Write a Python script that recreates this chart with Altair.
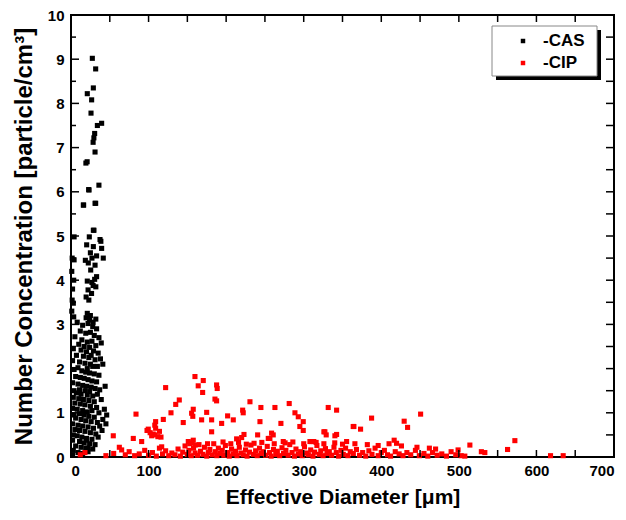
import altair as alt
import pandas as pd

# ---- data ----
cas_x = [27.5, 31.8, 28.8, 21.0, 26.6, 25.8, 39.5, 34.0, 30.5, 29.5, 28.5, 31.0, 20.8, 19.2, 36.0, 22.8,
         31.0, 16.3, 28.8, 23.6, 37.4, 38.5, 23.2, 15.9, 31.8, 29.6,
         20.2, 28.8, 39.5, 25.0, 33.0, 41.6, 22.3, 31.0, 18.5, 27.0, 33.0, 21.0, 27.0, 25.4, 30.5, 28.5, 32.0,
         22.0, 26.5, 19.5, 23.0, 21.0, 25.0, 19.5, 24.0, 28.5, 32.0,
         4.0, 4.0, 3.5, 3.0, 3.5, 1.5, 1.0, 2.0, 1.5, 1.0,
         8, 15, 22, 28, 33, 12, 19, 25, 30, 36, 5, 14, 21, 27, 39, 10, 17, 24, 32, 3,
         13, 20, 29, 35, 7, 16, 23, 26, 31, 38, 2, 11, 18, 25, 34, 9, 21, 28, 41, 4,
         14, 19, 24, 30, 36, 6, 12, 17, 22, 27, 33, 2, 9, 15, 20, 26, 31, 37, 44, 4, 11, 18, 24,
         7, 13, 21, 28, 34, 3, 10, 16, 23, 30, 39, 5, 12, 18, 25, 33, 2, 8, 15, 21, 27, 36, 43, 11,
         4, 17, 23, 30, 6, 13, 19, 26, 34, 41, 2, 9, 15, 22, 29, 37, 45, 5, 11, 18, 25, 32, 40, 3,
         8, 14, 20, 27, 35, 2, 11, 17, 24, 31, 6, 13, 19, 22, 28, 3, 9, 15, 2, 46, 20, 22]
cas_y = [9.02, 8.78, 8.35, 8.22, 8.08, 7.78, 7.55, 7.50, 7.32, 7.22, 7.12, 6.90, 6.68, 6.65, 6.15, 6.05,
         5.74, 5.70, 5.13, 4.98, 4.92, 4.88, 6.04, 5.70, 5.74, 5.13,
         4.80, 4.76, 4.72, 4.62, 4.55, 4.50, 4.39, 4.34, 4.45, 4.50, 4.08, 3.98, 3.95, 4.23, 4.02, 3.88, 3.85,
         3.78, 3.70, 3.62, 3.55, 3.25, 3.20, 3.15, 3.10, 3.05, 3.12,
         4.98, 4.46, 4.00, 3.48, 3.17, 4.50, 4.20, 3.80, 3.55, 3.30,
         3.05, 2.98, 3.02, 2.95, 2.90, 2.85, 2.80, 2.82, 2.75, 2.70, 2.72, 2.65, 2.60, 2.62, 2.58, 2.55, 2.50, 2.48, 2.52, 2.45,
         2.42, 2.38, 2.40, 2.35, 2.30, 2.28, 2.25, 2.30, 2.20, 2.22, 2.18, 2.15, 2.12, 2.10, 2.05, 2.02, 2.00, 2.05, 2.10, 1.98,
         1.95, 1.92, 1.90, 1.88, 1.85, 1.82, 1.80, 1.78, 1.75, 1.72, 1.70, 1.68, 1.65, 1.62, 1.60, 1.58, 1.55, 1.52, 1.60, 1.50, 1.52, 1.50, 1.48,
         1.45, 1.42, 1.40, 1.38, 1.42, 1.35, 1.32, 1.30, 1.28, 1.25, 1.30, 1.22, 1.20, 1.18, 1.15, 1.12, 1.10, 1.08, 1.05, 1.02, 1.05, 1.00, 1.08, 0.98,
         0.95, 0.95, 0.92, 0.90, 0.88, 0.85, 0.82, 0.80, 0.78, 0.85, 0.75, 0.72, 0.70, 0.68, 0.65, 0.70, 0.75, 0.62, 0.60, 0.58, 0.55, 0.52, 0.60, 0.50,
         0.48, 0.45, 0.42, 0.40, 0.45, 0.38, 0.35, 0.32, 0.30, 0.28, 0.25, 0.22, 0.20, 0.12, 0.18, 0.15, 0.10, 0.08, 0.05, 0.95, 0.38, 0.20]

cip_x = [159.8, 170.5, 164.0, 187.7, 188.5, 169.7, 122.0, 185.6, 187.7, 139.6, 230.7, 135.0, 281.3, 244.8,
         262.9, 331.6, 342.4, 157.6, 221.3, 155.5, 174.9, 128.9, 83.8, 288.7, 293.0, 201.9, 209.2, 181.3,
         168.4, 144.7, 119.0, 109.1, 194.2, 243.6, 270.6, 299.4, 295.0, 299.4, 363.8, 99.6, 109.1, 181.3,
         260.7, 327.3, 340.2, 220.0, 213.5, 254.3, 54.5, 80.3, 91.1, 104.0, 108.0, 112.0, 116.0, 157.6,
         151.2, 355.3, 310.2, 273.6, 62.3, 65.3,
         450.7, 387.5, 429.5, 433.9, 364.7, 373.3, 416.6, 419.7, 514.2, 572.2, 562.8, 533.5, 529.0, 618.2,
         634.5, 499.0, 507.7,
         223.0, 240.6, 258.6, 256.4, 326.0, 329.0, 342.4, 308.0, 313.0, 157.0, 98.0, 102.0, 106.0, 114.0,
         116.9, 153.0, 160.0, 108.0, 222.0,
         12, 18, 45, 55, 70, 75, 82, 88, 95, 100, 105, 110, 114, 118, 122, 126, 130, 134, 138, 141, 144, 147,
         150, 152, 155, 158, 160, 163, 165, 167, 170, 172, 175, 177, 179, 182, 184, 186, 188, 190, 192, 195,
         197, 199, 202, 204, 207, 209, 212, 214, 217, 219, 222, 225, 227, 230, 232, 235, 238, 240, 243, 245,
         248, 251, 253, 256, 258, 261, 264, 266, 269, 272, 274, 277, 280, 282, 285, 288, 290, 293, 296, 298,
         301, 304, 306, 309, 312, 314, 317, 320, 322, 325, 328, 330, 333, 336, 339, 342, 345, 348, 351, 354,
         357, 360, 364, 368, 372, 376, 380, 384, 388, 392, 396, 400, 404, 408, 412, 418, 423, 428, 433, 438,
         444, 449, 455, 460, 466, 472, 478, 484, 490, 496, 503,
         156, 176, 196, 206, 216, 226, 236, 246, 262, 276, 286, 300, 316, 326, 340, 350, 366, 382, 396, 410,
         426, 446, 462, 470]
cip_y = [1.82, 1.73, 1.61, 1.63, 1.55, 1.46, 1.57, 1.31, 1.27, 1.29, 1.25, 1.19, 1.21, 1.12,
         1.12, 1.12, 1.06, 1.08, 1.06, 0.99, 1.01, 1.00, 0.97, 1.00, 0.91, 0.93, 0.84, 0.84,
         0.84, 0.78, 0.85, 0.80, 0.76, 0.80, 0.76, 0.80, 0.69, 0.60, 0.69, 0.63, 0.65, 0.57,
         0.50, 0.57, 0.48, 0.44, 0.41, 0.42, 0.48, 0.42, 0.35, 0.48, 0.50, 0.46, 0.45, 0.38,
         0.35, 0.35, 0.35, 0.35, 0.22, 0.16,
         0.97, 0.88, 0.81, 0.67, 0.69, 0.63, 0.38, 0.31, 0.27, 0.37, 0.17, 0.10, 0.12, 0.03,
         0.03, 0.16, 0.02,
         0.51, 0.50, 0.54, 0.42, 0.57, 0.50, 0.51, 0.35, 0.35, 0.92, 0.60, 0.55, 0.52, 0.58,
         0.23, 0.30, 0.27, 0.72, 1.00,
         0.05, 0.10, 0.03, 0.08, 0.05, 0.12, 0.03, 0.07, 0.15, 0.04, 0.10, 0.02, 0.20, 0.07, 0.14, 0.03, 0.09, 0.05, 0.18, 0.02, 0.11, 0.25,
         0.06, 0.15, 0.03, 0.20, 0.09, 0.04, 0.28, 0.13, 0.06, 0.22, 0.02, 0.10, 0.17, 0.05, 0.30, 0.12, 0.03, 0.20, 0.08, 0.15,
         0.04, 0.26, 0.10, 0.02, 0.18, 0.07, 0.13, 0.03, 0.22, 0.09, 0.05, 0.16, 0.02, 0.11, 0.27, 0.06, 0.14, 0.03, 0.20, 0.08,
         0.12, 0.04, 0.24, 0.10, 0.02, 0.17, 0.06, 0.13, 0.03, 0.21, 0.08, 0.15, 0.04, 0.28, 0.10, 0.02, 0.18, 0.07, 0.12, 0.03,
         0.23, 0.09, 0.05, 0.16, 0.02, 0.11, 0.26, 0.06, 0.14, 0.03, 0.19, 0.08, 0.12, 0.04, 0.22, 0.10, 0.02, 0.15, 0.06, 0.20,
         0.03, 0.12, 0.08, 0.17, 0.04, 0.10, 0.02, 0.14, 0.06, 0.20, 0.03, 0.10, 0.15, 0.05, 0.02, 0.12, 0.07, 0.03, 0.10, 0.05,
         0.15, 0.03, 0.08, 0.02, 0.10, 0.04, 0.07, 0.02, 0.12, 0.05, 0.03,
         0.32, 0.30, 0.34, 0.30, 0.33, 0.29, 0.31, 0.33, 0.30, 0.32, 0.34, 0.30, 0.33, 0.30, 0.32, 0.29, 0.30, 0.28, 0.26, 0.30,
         0.25, 0.22, 0.20, 0.18]

series_names = ["-CAS", "-CIP"]
series_colors = ["#000000", "#ff0000"]
x_ticks = [0, 100, 200, 300, 400, 500, 600, 700]
x_minor = [50, 100, 150, 200, 250, 300, 350, 400, 450, 500, 550, 600, 650]
y_ticks = [0, 1, 2, 3, 4, 5, 6, 7, 8, 9, 10]
y_minor = [0.5, 1.5, 2.5, 3.5, 4.5, 5.5, 6.5, 7.5, 8.5, 9.5]

W, H = 543, 442
FONT = "Liberation Sans"

df = pd.concat([
    pd.DataFrame({"x": cas_x, "y": cas_y, "s": series_names[0]}),
    pd.DataFrame({"x": cip_x, "y": cip_y, "s": series_names[1]}),
], ignore_index=True)
df["order"] = (df["s"] == series_names[1]).astype(int)

xs = alt.Scale(domain=[0, 700], nice=False, zero=False)
ys = alt.Scale(domain=[0, 10], nice=False, zero=False)

points = alt.Chart(df).mark_square(size=26, opacity=1).encode(
    x=alt.X("x:Q", scale=xs, axis=alt.Axis(values=x_ticks, title="Effective Diameter [μm]",
                                           labelPadding=6, titlePadding=8, titleFontSize=21)),
    y=alt.Y("y:Q", scale=ys, axis=alt.Axis(values=y_ticks, title="Number Concentration [particle/cm³]",
                                           labelPadding=7, titlePadding=11, titleFontSize=24)),
    color=alt.Color("s:N", scale=alt.Scale(domain=series_names, range=series_colors), legend=None),
    order=alt.Order("order:Q"),
)

xt = pd.DataFrame({"v": x_minor})
yt_major = pd.DataFrame({"v": y_ticks[1:-1]})
yt_minor = pd.DataFrame({"v": y_minor})

tick_layers = [
    alt.Chart(xt).mark_rule(color="black", strokeWidth=1.5).encode(x=alt.X("v:Q", scale=xs), y=alt.value(H), y2=alt.value(H - 7)),
    alt.Chart(xt).mark_rule(color="black", strokeWidth=1.5).encode(x=alt.X("v:Q", scale=xs), y=alt.value(0), y2=alt.value(7)),
    alt.Chart(yt_major).mark_rule(color="black", strokeWidth=1.5).encode(y=alt.Y("v:Q", scale=ys), x=alt.value(0), x2=alt.value(8)),
    alt.Chart(yt_minor).mark_rule(color="black", strokeWidth=1.5).encode(y=alt.Y("v:Q", scale=ys), x=alt.value(0), x2=alt.value(5)),
    alt.Chart(yt_major).mark_rule(color="black", strokeWidth=1.5).encode(y=alt.Y("v:Q", scale=ys), x=alt.value(W), x2=alt.value(W - 8)),
    alt.Chart(yt_minor).mark_rule(color="black", strokeWidth=1.5).encode(y=alt.Y("v:Q", scale=ys), x=alt.value(W), x2=alt.value(W - 8)),
]

# legend box with shadow
leg = pd.DataFrame({"label": series_names, "color": series_colors})
lx0, lx1, ly0, ly1 = 421, 526, 11, 61
shadow = alt.Chart(leg.head(1)).mark_rect(color="black").encode(
    x=alt.value(lx0 + 4), x2=alt.value(lx1 + 4), y=alt.value(ly0 + 4), y2=alt.value(ly1 + 4))
box = alt.Chart(leg.head(1)).mark_rect(fill="white", stroke="#888888", strokeWidth=1).encode(
    x=alt.value(lx0), x2=alt.value(lx1), y=alt.value(ly0), y2=alt.value(ly1))
sym1 = alt.Chart(leg.iloc[[0]]).mark_square(size=20, color="black", opacity=1).encode(x=alt.value(452), y=alt.value(26))
sym2 = alt.Chart(leg.iloc[[1]]).mark_square(size=20, color="#ff0000", opacity=1).encode(x=alt.value(452), y=alt.value(48))
txt1 = alt.Chart(leg.iloc[[0]]).mark_text(align="left", baseline="middle", font=FONT, fontSize=17,
                                           fontWeight="bold", color="black").encode(x=alt.value(472), y=alt.value(26), text="label:N")
txt2 = alt.Chart(leg.iloc[[1]]).mark_text(align="left", baseline="middle", font=FONT, fontSize=17,
                                           fontWeight="bold", color="black").encode(x=alt.value(472), y=alt.value(48), text="label:N")

chart = alt.layer(points, *tick_layers, shadow, box, sym1, sym2, txt1, txt2).properties(
    width=W, height=H,
    autosize=alt.AutoSizeParams(type="none"),
    padding={"left": 71, "top": 15, "right": 626 - 71 - W, "bottom": 520 - 15 - H},
    background="white",
).configure_view(stroke="black", strokeWidth=2).configure_axis(
    domain=False, ticks=False, grid=False,
    labelFont=FONT, labelFontSize=15, labelFontWeight="bold", labelColor="black",
    titleFont=FONT, titleFontWeight="bold", titleColor="black",
)

chart.save("out.html", embed_options={"renderer": "svg", "actions": False})
